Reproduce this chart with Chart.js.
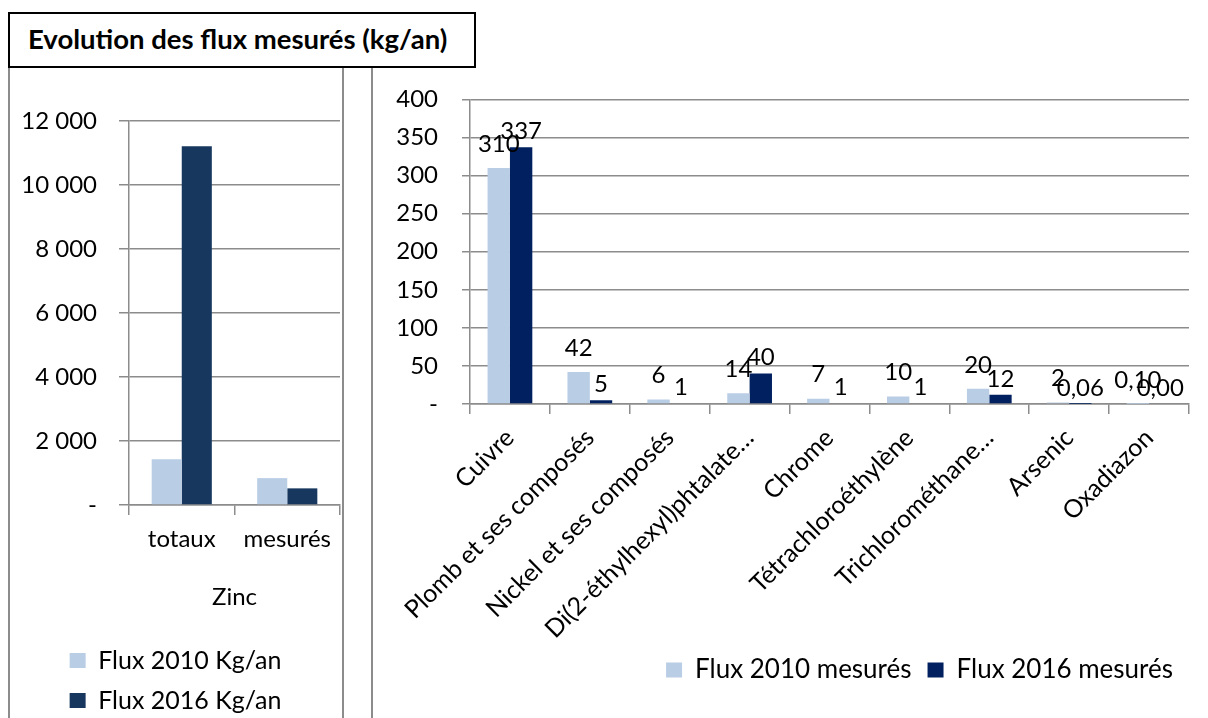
<!DOCTYPE html>
<html lang="fr">
<head>
<meta charset="utf-8">
<title>Evolution des flux mesurés (kg/an)</title>
<script src="https://cdn.jsdelivr.net/npm/chart.js@4.4.1/dist/chart.umd.min.js"></script>
<style>
  html, body { margin: 0; padding: 0; background: #fff; overflow: hidden; }
  body { width: 1208px; height: 718px; position: relative; font-family: Lato, sans-serif; }
  #titre {
    position: absolute; left: 8px; top: 12px; width: 468px; height: 56px;
    box-sizing: border-box; border: 2px solid #000;
    font-weight: bold; font-size: 27.5px; line-height: 50px; padding-left: 18px; color: #000;
  }
  #panneauG {
    position: absolute; left: 8px; top: 66px; width: 336px; height: 700px;
    box-sizing: border-box; border-left: 2px solid #8c8c8c; border-right: 2px solid #8c8c8c;
  }
  #panneauD {
    position: absolute; left: 371px; top: 66px; width: 840px; height: 700px;
    box-sizing: border-box; border-left: 2px solid #8c8c8c;
  }
  #zinc { position: absolute; left: 10px; top: 68px; }
  #flux { position: absolute; left: 373px; top: 61px; }
</style>
</head>
<body>
<div id="panneauG"></div>
<div id="panneauD"></div>
<div id="titre">Evolution des flux mesurés (kg/an)</div>
<canvas id="zinc" width="331" height="655"></canvas>
<canvas id="flux" width="835" height="657"></canvas>
<script>
// données
const zincCategories = ['totaux', 'mesurés'];
const zinc2010 = [1430, 840];
const zinc2016 = [11210, 520];
const zincTicks = [0, 2000, 4000, 6000, 8000, 10000, 12000];

const substances = ['Cuivre', 'Plomb et ses composés', 'Nickel et ses composés',
  'Di(2-éthylhexyl)phtalate…', 'Chrome', 'Tétrachloroéthylène',
  'Trichlorométhane…', 'Arsenic', 'Oxadiazon'];
const flux2010 = [310, 42, 6, 14, 7, 10, 20, 2, 0.10];
const flux2016 = [337, 5, 1, 40, 1, 1, 12, 0.06, 0.00];
const fluxTicks = [0, 50, 100, 150, 200, 250, 300, 350, 400];

const gris = '#8c8c8c';
Chart.defaults.font.family = 'Lato, sans-serif';
Chart.defaults.color = '#000';

function milliers(v) {
  if (v === 0) return '-';
  return String(v).replace(/\B(?=(\d{3})+(?!\d))/g, ' ');
}

function formatEtiquette(v) {
  if (v < 1) return v.toFixed(2).replace('.', ',');
  return String(Math.round(v));
}

// étiquettes de valeur au-dessus des barres
const etiquettes = {
  id: 'etiquettes',
  afterDatasetsDraw(chart) {
    const ctx = chart.ctx;
    ctx.save();
    ctx.font = '24px Lato, sans-serif';
    ctx.fillStyle = '#000';
    ctx.textAlign = 'center';
    ctx.textBaseline = 'bottom';
    chart.data.datasets.forEach((ds, i) => {
      const ecart = i === 0 ? 12 : 4;
      chart.getDatasetMeta(i).data.forEach((bar, j) => {
        ctx.fillText(formatEtiquette(ds.data[j]), bar.x, bar.y - ecart);
      });
    });
    ctx.restore();
  }
};

new Chart(document.getElementById('zinc'), {
  type: 'bar',
  data: {
    labels: zincCategories,
    datasets: [
      { label: 'Flux 2010 Kg/an', data: zinc2010, backgroundColor: '#b9cde5' },
      { label: 'Flux 2016 Kg/an', data: zinc2016, backgroundColor: '#17375e' }
    ]
  },
  options: {
    responsive: false,
    animation: false,
    layout: { padding: { left: 0, top: 53, right: 0, bottom: 0 } },
    datasets: { bar: { categoryPercentage: 0.57, barPercentage: 1 } },
    plugins: {
      tooltip: { enabled: false },
      legend: {
        position: 'bottom',
        align: 'center',
        labels: { boxWidth: 16, boxHeight: 15, padding: 15, font: { size: 25 } }
      }
    },
    scales: {
      x: {
        afterFit(s) { s.height = 128; },
        border: { color: gris, width: 1.5 },
        grid: { drawOnChartArea: false, tickLength: 10, color: gris, lineWidth: 1.5, offset: true },
        ticks: { font: { size: 24 }, padding: 10, maxRotation: 0 },
        title: { display: true, text: 'Zinc', font: { size: 24 }, padding: { top: 0, bottom: 21 } }
      },
      y: {
        min: 0,
        max: 12000,
        afterFit(s) { s.width = 119; },
        afterBuildTicks(s) { s.ticks = zincTicks.map(v => ({ value: v })); },
        border: { color: gris, width: 1.5 },
        grid: { color: gris, lineWidth: 1.5, tickLength: 10 },
        ticks: { font: { size: 24 }, padding: 22, callback: v => milliers(v) }
      }
    }
  }
});

new Chart(document.getElementById('flux'), {
  type: 'bar',
  data: {
    labels: substances,
    datasets: [
      { label: 'Flux 2010 mesurés', data: flux2010, backgroundColor: '#b9cde5' },
      { label: 'Flux 2016 mesurés', data: flux2016, backgroundColor: '#002060' }
    ]
  },
  options: {
    responsive: false,
    animation: false,
    layout: { padding: { left: 0, top: 0, right: 19, bottom: 25 } },
    datasets: { bar: { categoryPercentage: 0.56, barPercentage: 1 } },
    plugins: {
      tooltip: { enabled: false },
      legend: {
        position: 'bottom',
        align: 'end',
        labels: { boxWidth: 16, boxHeight: 15, padding: 16, font: { size: 26 } }
      }
    },
    scales: {
      x: {
        afterFit(s) { s.height = 237; },
        border: { color: gris, width: 1.5 },
        grid: { drawOnChartArea: false, tickLength: 10, color: gris, lineWidth: 1.5, offset: true },
        ticks: { font: { size: 25 }, padding: 9, minRotation: 45, maxRotation: 45, autoSkip: false }
      },
      y: {
        min: 0,
        max: 400,
        afterFit(s) { s.width = 97; },
        afterBuildTicks(s) { s.ticks = fluxTicks.map(v => ({ value: v })); },
        border: { color: gris, width: 1.5 },
        grid: { color: gris, lineWidth: 1.5, tickLength: 8 },
        ticks: { font: { size: 24 }, padding: 24, callback: v => (v === 0 ? '-' : v) }
      }
    }
  },
  plugins: [etiquettes]
});
</script>
</body>
</html>
